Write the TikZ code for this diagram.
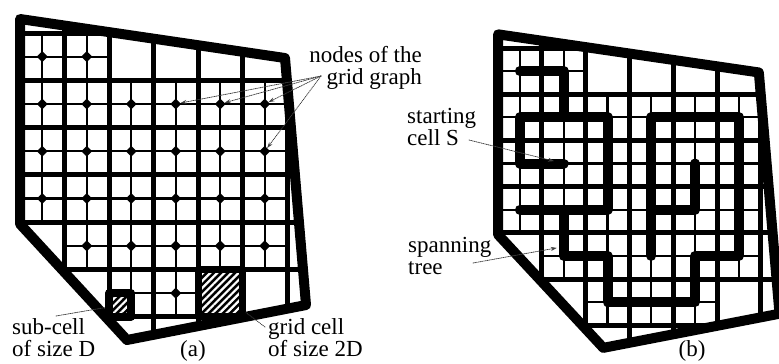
\documentclass[tikz,border=0pt]{standalone}
\usepackage{fontspec}
\setmainfont{Liberation Serif}
\usetikzlibrary{arrows.meta, calc, patterns.meta, shapes.geometric}
% cells of size 2D that lie wholly inside the field
\def\fullcells{1/1,2/1,1/2,2/2,3/2,4/2,5/2,6/2,1/3,2/3,3/3,4/3,5/3,6/3,1/4,2/4,3/4,4/4,5/4,6/4,2/5,3/5,4/5,5/5,6/5,3/6,4/6,5/6}
% the ones that carry a node of the grid graph in (a)
\def\gridnodes{1/1,2/1,1/2,2/2,3/2,4/2,5/2,6/2,1/3,2/3,3/3,4/3,5/3,6/3,1/4,2/4,3/4,4/4,5/4,6/4,2/5,3/5,4/5,5/5,6/5,4/6}
\tikzset{
  >={Stealth[length=6bp, width=4bp]},
  every picture/.style={line cap=round, line join=round},
  border/.style={line width=10bp},
  major/.style={line width=5bp, line cap=butt},
  minor/.style={line width=2.2bp, line cap=butt},
  tree/.style={line width=10bp},
  leader/.style={densely dotted, line width=0.8bp, black!75},
  note/.style={font=\fontsize{23bp}{22.5bp}\selectfont, inner sep=0pt},
  gnode/.style={diamond, aspect=1, minimum size=11bp, inner sep=0pt, fill=black},
  hatched/.style={draw, inner sep=0pt, preaction={fill=black},
    pattern={Lines[angle=45, distance=5bp, line width=2.2bp]}, pattern color=white},
  % the field: polygon outline, grid of 2D cells, D sub-cells in the free cells
  field/.pic={
    \begin{scope}
      \clip (0,-0.296) -- (5.955,0.529) -- (6.427,5.751) -- (2.404,6.49) -- (0,4.038) -- cycle;
      \foreach \i/\j in \fullcells
        \draw[minor] (\i-1,\j-0.5) -- (\i,\j-0.5) (\i-0.5,\j-1) -- (\i-0.5,\j);
      \foreach \i in {0,...,7} \draw[major] (\i,-1) -- (\i,8);
      \foreach \j in {-1,...,7} \draw[major] (-1,\j) -- (8,\j);
    \end{scope}
    \draw[border] (0,-0.296) -- (5.955,0.529) -- (6.427,5.751) -- (2.404,6.49) -- (0,4.038) -- cycle;
  },
}

\begin{document}
\begin{tikzpicture}[x=1bp, y=-1bp]
  \useasboundingbox (0,0) rectangle (779,363);
  % ---------- (a) grid graph
  \begin{scope}[shift={(20,33)}, x=44.5bp, y=-47.3bp]
    \pic at (0,0) {field};
    \foreach \i/\j in \gridnodes
      \node[gnode] (g\i\j) at (\i-0.5,\j-0.5) {};
    \node[hatched, line width=8bp, minimum width=22bp, minimum height=23.5bp] (sub) at (2.25,5.75) {};
    \node[hatched, line width=7bp, minimum width=44.5bp, minimum height=47.3bp] (hcell) at (4.5,5.5) {};
  \end{scope}
  % ---------- (b) spanning tree
  \begin{scope}[shift={(498,48)}, x=43.8bp, y=-46.2bp]
    \pic at (0,0) {field};
    \foreach \i/\j in \fullcells
      \coordinate (t\i\j) at (\i-0.5,\j-0.5);
    \draw[tree] (t11) -- (t21) -- (t22);
    \draw[tree] (t23) -- (t13) -- (t12) -- (t32) -- (t34) -- (t14);
    \draw[tree] (t24) -- (t25) -- (t35) -- (t36) -- (t56) -- (t55) -- (t65) -- (t62) -- (t42) -- (t45);
    \draw[tree] (t44) -- (t54) -- (t53);
  \end{scope}
  % ---------- labels
  \node[note, anchor=north east, align=right] (nglabel) at (422,46) {nodes of the\\grid graph};
  \coordinate (ngfoot) at (321,76);
  \foreach \n in {g42,g52,g62,g63}
    \draw[leader, ->] (ngfoot) -- (\n);
  \node[note, anchor=north west, align=left] (sclabel) at (12,318) {sub-cell\\of size D};
  \coordinate (scfoot) at (56,316);
  \draw[leader] (scfoot) -- (sub);
  \node[note, anchor=north west, align=left] (gclabel) at (268,318) {grid cell\\of size 2D};
  \coordinate (gcfoot) at (265,327);
  \draw[leader] (gcfoot) -- (hcell);
  \node[note, anchor=north west, align=left] (stlabel) at (407,108) {starting\\cell S};
  \coordinate (stfoot) at (469,140);
  \draw[leader, ->, shorten >=10bp] (stfoot) -- (t23);
  \node[note, anchor=north west, align=left] (splabel) at (408,237) {spanning\\tree};
  \coordinate (spfoot) at (473,263);
  \draw[leader, ->, shorten >=7bp] (spfoot) -- ($(t24)!0.8!(t25)$);
  \node[note, anchor=base] (capa) at (193,356) {(a)};
  \node[note, anchor=base] (capb) at (692,356) {(b)};
\end{tikzpicture}
\end{document}
